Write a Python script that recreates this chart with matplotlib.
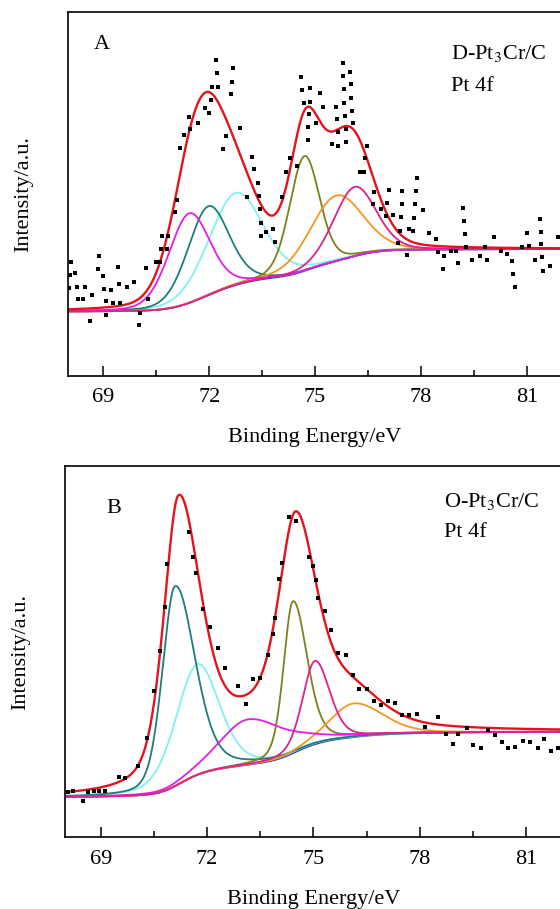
import numpy as np
import matplotlib
matplotlib.use("Agg")
import matplotlib.pyplot as plt
from matplotlib.ticker import MultipleLocator

plt.rcParams['font.family'] = ['Liberation Serif', 'DejaVu Serif']
plt.rcParams['mathtext.fontset'] = 'stix'

#------------------------------------
# fitted Pt 4f components:
# centre (eV), height above background, left / right FWHM (eV), lorentz share

# panel A  (D-Pt3Cr/C)
a_colors = ["#7ff2ef", "#1d7d78", "#7f7f1e", "#f5961e", "#e21ee2", "#e0208c"]
a_center = [72.75, 71.97, 74.70, 75.60, 71.43, 76.12]
a_height = [25.4, 24.5, 31.6, 18.1, 24.7, 19.1]
a_wl     = [1.80, 1.38, 1.00, 1.75, 1.38, 1.42]
a_wr     = [1.80, 1.38, 1.00, 1.75, 1.38, 1.42]
a_eta    = [0.2, 0.2, 0.2, 0.2, 0.2, 0.2]
a_bg     = [17.6, 34.8]   # background level, low / high binding energy side

# panel B  (O-Pt3Cr/C)
b_colors = ["#7ff2ef", "#1d7d78", "#7f7f1e", "#f5961e", "#e21ee2", "#e0208c"]
b_center = [71.72, 71.09, 74.42, 76.13, 73.16, 75.04]
b_height = [29.9, 53.9, 41.0, 9.1, 12.3, 22.5]
b_wl     = [1.45, 0.84, 0.62, 1.60, 1.90, 0.82]
b_wr     = [1.45, 1.32, 0.94, 1.96, 2.50, 0.98]
b_eta    = [0.3, 0.3, 0.3, 0.3, 0.3, 0.3]
b_bg     = [10.8, 28.4]

# the red envelope of panel B is traced on its own, it is not the sum of the drawn parts
b_env_center = [71.19, 73.20, 74.50, 76.10]
b_env_height = [75.8, 8.5, 57.2, 9.0]
b_env_wl     = [1.00, 2.00, 1.16, 1.80]
b_env_wr     = [1.50, 2.60, 1.44, 2.00]
b_env_eta    = [0.5, 0.5, 0.5, 0.5]

# raw data points
a_be = [68.08, 68.06, 68.21, 68.04, 68.25, 68.49, 68.27, 68.43, 68.61, 68.68,
        68.89, 68.84, 69.00, 69.03, 69.07, 69.09, 69.22, 69.28, 69.45, 69.42,
        69.48, 69.67, 69.86, 70.04, 70.00, 70.21, 70.28, 70.48, 70.60, 70.64,
        70.81, 70.66, 70.84, 71.03, 71.08, 71.18, 71.29, 71.43, 71.47, 71.67,
        71.88, 71.99, 72.05, 72.07, 72.24, 72.22, 72.18, 72.68, 72.65, 72.62,
        72.86, 72.47, 72.38, 73.20, 73.27, 73.37, 73.41, 73.07, 73.44, 73.48,
        73.60, 73.48, 73.80, 73.87, 74.07, 74.18, 74.28, 74.49, 74.60, 74.64,
        74.69, 74.87, 74.85, 74.83, 74.81, 74.79, 75.13, 75.23, 75.02, 75.47,
        75.66, 75.58, 75.61, 75.64, 75.78, 75.80, 75.82, 75.83, 75.85, 75.87,
        75.88, 76.00, 76.01, 76.02, 76.04, 76.06, 76.47, 76.42, 76.39, 76.28,
        76.68, 76.63, 76.86, 77.03, 77.00, 77.08, 77.20, 77.43, 77.45, 77.47,
        77.41, 77.36, 77.59, 77.66, 77.78, 77.80, 77.83, 77.85, 77.88, 78.05,
        78.23, 78.42, 78.47, 78.66, 78.62, 78.85, 78.99, 79.06, 79.20, 79.22,
        79.25, 79.27, 79.44, 79.66, 79.82, 79.86, 80.07, 80.27, 80.45, 80.59,
        80.62, 80.66, 80.85, 80.99, 81.06, 81.23, 81.37, 81.39, 81.41, 81.43,
        81.46, 81.65, 81.87]
a_int = [31.3, 27.7, 28.2, 24.2, 24.5, 24.5, 21.0, 21.0, 15.1, 22.3,
         32.9, 29.4, 27.5, 23.9, 20.5, 16.7, 23.6, 20.0, 25.1, 30.0,
         20.0, 24.4, 25.8, 17.3, 14.0, 29.5, 21.0, 31.2, 31.2, 34.8,
         34.8, 38.4, 38.4, 45.0, 48.4, 62.7, 66.3, 71.2, 67.7, 69.6,
         73.5, 72.3, 75.8, 79.5, 79.5, 83.1, 86.8, 84.5, 80.8, 77.5,
         68.0, 65.9, 62.3, 60.2, 56.7, 52.9, 49.4, 49.2, 45.8, 42.1,
         39.6, 38.4, 40.3, 36.7, 49.1, 56.1, 59.8, 57.7, 82.2, 78.6,
         75.1, 79.2, 75.3, 72.0, 68.3, 64.8, 77.6, 74.0, 69.4, 63.6,
         63.2, 74.0, 70.6, 67.1, 85.9, 82.4, 78.7, 75.1, 71.4, 67.7,
         64.3, 83.6, 80.1, 76.4, 72.9, 69.4, 63.2, 59.8, 56.1, 56.1,
         50.6, 47.1, 45.8, 47.6, 44.0, 51.1, 44.2, 43.6, 47.1, 50.8,
         39.9, 36.6, 33.2, 40.3, 39.9, 43.4, 47.1, 50.8, 54.4, 45.6,
         39.3, 37.5, 34.1, 32.9, 29.3, 34.4, 34.3, 30.9, 46.2, 42.5,
         39.0, 35.5, 31.8, 32.9, 35.5, 31.8, 38.2, 34.3, 33.4, 31.6,
         28.0, 24.3, 35.3, 39.2, 35.7, 31.8, 43.1, 39.6, 36.2, 32.6,
         28.9, 30.2, 38.2]

b_be = [68.07, 68.22, 68.49, 68.65, 68.80, 68.96, 69.11, 69.50, 69.68, 70.06,
        70.29, 70.50, 70.67, 70.80, 70.88, 71.49, 71.61, 71.69, 71.89, 72.08,
        72.30, 72.50, 72.88, 73.09, 73.30, 73.49, 73.71, 73.87, 73.92, 74.03,
        74.10, 74.31, 74.50, 74.88, 74.99, 75.06, 75.12, 75.33, 75.50, 75.69,
        75.91, 76.13, 76.29, 76.50, 76.71, 76.91, 77.11, 77.30, 77.49, 77.71,
        77.92, 78.15, 78.52, 78.73, 78.93, 79.09, 79.33, 79.51, 79.73, 79.94,
        80.13, 80.31, 80.50, 80.69, 80.91, 81.11, 81.35, 81.52, 81.71, 81.90]
b_int = [12.3, 12.5, 9.9, 12.3, 12.5, 12.5, 12.5, 16.3, 15.9, 19.2,
         26.7, 39.4, 50.3, 62.0, 73.6, 82.3, 75.6, 71.3, 61.4, 56.7,
         50.9, 45.5, 40.8, 35.9, 42.6, 42.8, 49.1, 54.8, 59.0, 69.5,
         73.8, 86.2, 85.3, 75.6, 73.1, 69.3, 64.5, 60.9, 55.8, 49.7,
         49.1, 43.7, 39.9, 39.9, 36.8, 35.6, 36.8, 36.3, 32.9, 32.9,
         33.1, 29.6, 32.5, 27.8, 25.1, 27.8, 29.4, 24.9, 24.0, 28.9,
         27.6, 25.7, 24.0, 24.4, 26.0, 25.7, 24.0, 26.4, 23.3, 24.0]

#------------------------------------

E = np.linspace(67.5, 82.5, 1501)


def peak(c, h, wl, wr, eta):
    w = np.where(E < c, wl, wr)
    x = 4*(E-c)**2/w**2
    return h*((1-eta)*np.exp(-np.log(2)*x) + eta/(1+x))


def panel(ax, pars, bg, colors, be, inten, env=None):
    comps = [peak(*p) for p in zip(*pars)]
    total = np.sum(comps, axis=0)
    if env is not None:
        total = np.sum([peak(*p) for p in zip(*env)], axis=0)
    # shirley type step, grows with the integrated peak area
    cum = np.cumsum(total)
    base = bg[0] + (bg[1]-bg[0])*cum/cum[-1]
    ax.plot(E, base, c="#2a4fc0", lw=1.0)
    for comp, col in zip(comps, colors):
        ax.plot(E, base + comp, c=col, lw=1.3)
    ax.plot(E, base + total, c="#e4141e", lw=1.7)
    ax.plot(be, inten, "s", c="black", ms=2.3, mew=0)
    ax.set_xlim(68, 82)
    ax.set_ylim(0, 100)
    ax.set_yticks([])
    ax.xaxis.set_major_locator(MultipleLocator(3))
    ax.xaxis.set_minor_locator(MultipleLocator(1.5))
    ax.tick_params(axis="x", which="major", direction="in", length=7, width=1.1,
                   labelsize=16, pad=9, top=False)
    ax.tick_params(axis="x", which="minor", direction="in", length=4.5, width=1.1, top=False)
    for s in ax.spines.values():
        s.set_linewidth(1.2)
    ax.set_xlabel("Binding Energy/eV", fontsize=16, labelpad=15)
    ax.set_ylabel("Intensity/a.u.", fontsize=16, labelpad=25)


fig = plt.figure(figsize=(5.6, 9.09), dpi=100)
ax1 = fig.add_axes([0.1214, 0.5867, 0.8825, 0.4001])
ax2 = fig.add_axes([0.1168, 0.0789, 0.8857, 0.4084])

panel(ax1, (a_center, a_height, a_wl, a_wr, a_eta), a_bg, a_colors, a_be, a_int)
panel(ax2, (b_center, b_height, b_wl, b_wr, b_eta), b_bg, b_colors, b_be, b_int,
      env=(b_env_center, b_env_height, b_env_wl, b_env_wr, b_env_eta))

ax1.text(0.068, 0.91, "A", transform=ax1.transAxes, fontsize=16, va="center", ha="center")
ax1.text(0.776, 0.885, "D-Pt$_3$Cr/C", transform=ax1.transAxes, fontsize=16, va="center")
ax1.text(0.776, 0.795, "Pt 4f", transform=ax1.transAxes, fontsize=16, va="center")

ax2.text(0.097, 0.885, "B", transform=ax2.transAxes, fontsize=16, va="center", ha="center")
ax2.text(0.764, 0.905, "O-Pt$_3$Cr/C", transform=ax2.transAxes, fontsize=16, va="center")
ax2.text(0.764, 0.82, "Pt 4f", transform=ax2.transAxes, fontsize=16, va="center")

plt.savefig("out.png", dpi=100)
